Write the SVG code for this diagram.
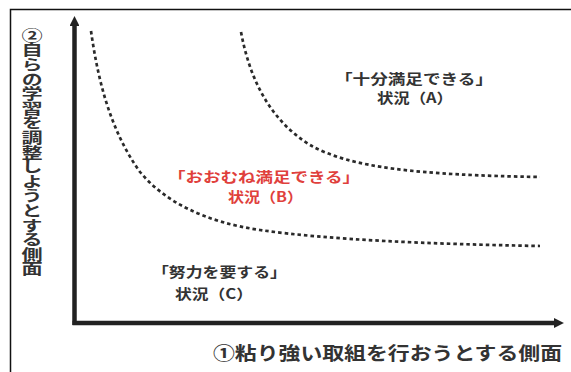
<svg xmlns="http://www.w3.org/2000/svg" width="571" height="372" viewBox="0 0 571 372">
<style>
.t{font-family:"Noto Sans CJK JP","Noto Sans",sans-serif;font-weight:700;fill:#333}
.r{fill:#e0403c}
.curve{fill:none;stroke:#2a2a2a;stroke-width:2.7;stroke-dasharray:3.5 3}
.axis{fill:none;stroke:#222;stroke-width:4.5}
.frame{fill:none;stroke:#111;stroke-width:1.5}
</style>
<defs>
<marker id="ah" viewBox="0 0 10 10" refX="2" refY="5" markerWidth="2.2" markerHeight="2.2" orient="auto" markerUnits="strokeWidth">
<path d="M0,0 L10,5 L0,10 z" fill="#222"/>
</marker>
</defs>
<rect width="571" height="372" fill="#fff"/>
<g id="frame">
<path class="frame" d="M10.5,372 V9.5 H571"/>
</g>
<g id="connectors">
<path id="y-axis" class="axis" d="M74.5,325 V24" marker-end="url(#ah)"/>
<path id="x-axis" class="axis" d="M72.5,323 H556" marker-end="url(#ah)"/>
<path id="curve-outer" class="curve" d="M91,31 C98,80 110,130 140,172 C165,202 205,222 260,230 C330,240 430,244 540,246"/>
<path id="curve-inner" class="curve" d="M241,32 C250,80 270,120 310,145 C350,168 420,175 540,177"/>
</g>
<g id="label-y">
<text class="t" x="32" y="28" font-size="14.6" writing-mode="vertical-rl" transform="translate(32,0) scale(1.45,1) translate(-32,0)">②自らの学習を調整しようとする側面</text>
</g>
<g id="label-x">
<text class="t" x="213" y="360" font-size="18.5" textLength="349" lengthAdjust="spacingAndGlyphs">①粘り強い取組を行おうとする側面</text>
</g>
<g id="node-A">
<text class="t" x="335" y="84" font-size="14" textLength="158" lengthAdjust="spacingAndGlyphs">「十分満足できる」</text>
<text class="t" x="377" y="103" font-size="14" textLength="76" lengthAdjust="spacingAndGlyphs">状況（A）</text>
</g>
<g id="node-B">
<text class="t r" x="168" y="182" font-size="14" textLength="192" lengthAdjust="spacingAndGlyphs">「おおむね満足できる」</text>
<text class="t r" x="228" y="202" font-size="14" textLength="75" lengthAdjust="spacingAndGlyphs">状況（B）</text>
</g>
<g id="node-C">
<text class="t" x="152" y="277" font-size="14" textLength="135" lengthAdjust="spacingAndGlyphs">「努力を要する」</text>
<text class="t" x="175" y="299" font-size="14" textLength="78" lengthAdjust="spacingAndGlyphs">状況（C）</text>
</g>
</svg>
